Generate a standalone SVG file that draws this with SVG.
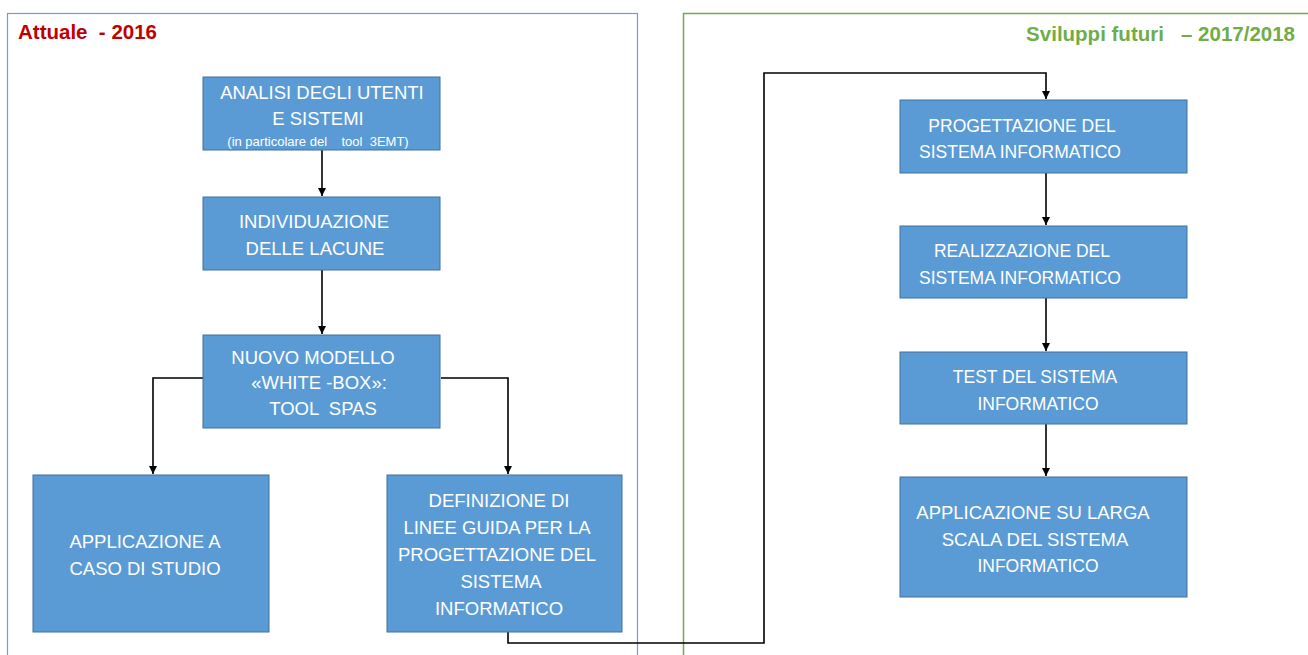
<svg xmlns="http://www.w3.org/2000/svg" width="1308" height="655" viewBox="0 0 1308 655">
<style>
.box{fill:#5b9bd5;stroke:#41719c;stroke-width:1}
.t{font-family:"Liberation Sans",Arial,sans-serif;font-size:18.5px;fill:#ffffff;text-anchor:middle;white-space:pre}
.r{font-size:17.5px}
.s{font-size:13px}
.c{fill:none;stroke:#000;stroke-width:1.6}
.h{font-family:"Liberation Sans",Arial,sans-serif;font-weight:bold;font-size:20.5px;white-space:pre}
</style>
<defs>
<marker id="a" viewBox="0 0 10 10" refX="10" refY="5" markerWidth="5" markerHeight="5" orient="auto" markerUnits="strokeWidth">
<path d="M0,0 L10,5 L0,10 z" fill="#000"/>
</marker>
</defs>
<rect width="1308" height="655" fill="#fff"/>
<g id="panel-left">
<rect x="7.5" y="13.5" width="630" height="660" fill="none" stroke="#7f9cbc" stroke-width="1.2"/>
<text class="h" x="18" y="39" fill="#c00000">Attuale  - 2016</text>
</g>
<g id="panel-right">
<rect x="683.5" y="13.5" width="640" height="660" fill="none" stroke="#70ad47" stroke-width="1.5"/>
<text class="h" x="1295" y="41" fill="#70ad47" text-anchor="end">Sviluppi futuri   – 2017/2018</text>
</g>
<g id="connectors">
<path class="c" d="M322,150 V196" marker-end="url(#a)"/>
<path class="c" d="M322,270 V334" marker-end="url(#a)"/>
<path class="c" d="M205,378 H153 V474" marker-end="url(#a)"/>
<path class="c" d="M441,378 H508 V474" marker-end="url(#a)"/>
<path class="c" d="M508,626 V643 H764 V73 H1046 V99" marker-end="url(#a)"/>
<path class="c" d="M1046,173 V225" marker-end="url(#a)"/>
<path class="c" d="M1046,298 V351" marker-end="url(#a)"/>
<path class="c" d="M1046,424 V476" marker-end="url(#a)"/>
</g>
<g id="n1">
<rect class="box" x="203" y="77" width="237" height="73"/>
<text class="t" x="322" y="99">ANALISI DEGLI UTENTI</text>
<text class="t" x="318" y="125">E SISTEMI</text>
<text class="t s" x="318" y="146">(in particolare del    tool  3EMT)</text>
</g>
<g id="n2">
<rect class="box" x="203" y="197" width="237" height="73"/>
<text class="t" x="314" y="228">INDIVIDUAZIONE</text>
<text class="t" x="315" y="255">DELLE LACUNE</text>
</g>
<g id="n3">
<rect class="box" x="203" y="335" width="237" height="93"/>
<text class="t" x="313" y="364">NUOVO MODELLO</text>
<text class="t" x="319" y="389">«WHITE -BOX»:</text>
<text class="t" x="323" y="415">TOOL  SPAS</text>
</g>
<g id="n4">
<rect class="box" x="33" y="475" width="236" height="157"/>
<text class="t" x="145" y="548">APPLICAZIONE A</text>
<text class="t" x="145" y="575">CASO DI STUDIO</text>
</g>
<g id="n5">
<rect class="box" x="387" y="475" width="235" height="157"/>
<text class="t" x="499" y="507">DEFINIZIONE DI</text>
<text class="t" x="497" y="534">LINEE GUIDA PER LA</text>
<text class="t" x="497" y="561">PROGETTAZIONE DEL</text>
<text class="t" x="501" y="588">SISTEMA</text>
<text class="t" x="499" y="615">INFORMATICO</text>
</g>
<g id="n6">
<rect class="box" x="900" y="100" width="287" height="73"/>
<text class="t r" x="1022" y="132">PROGETTAZIONE DEL</text>
<text class="t r" x="1020" y="158">SISTEMA INFORMATICO</text>
</g>
<g id="n7">
<rect class="box" x="900" y="226" width="287" height="72"/>
<text class="t r" x="1022" y="257">REALIZZAZIONE DEL</text>
<text class="t r" x="1020" y="284">SISTEMA INFORMATICO</text>
</g>
<g id="n8">
<rect class="box" x="900" y="352" width="287" height="72"/>
<text class="t r" x="1035" y="383">TEST DEL SISTEMA</text>
<text class="t r" x="1038" y="410">INFORMATICO</text>
</g>
<g id="n9">
<rect class="box" x="900" y="477" width="287" height="120"/>
<text class="t" x="1033" y="519">APPLICAZIONE SU LARGA</text>
<text class="t" x="1035" y="546">SCALA DEL SISTEMA</text>
<text class="t r" x="1038" y="572">INFORMATICO</text>
</g>
</svg>
